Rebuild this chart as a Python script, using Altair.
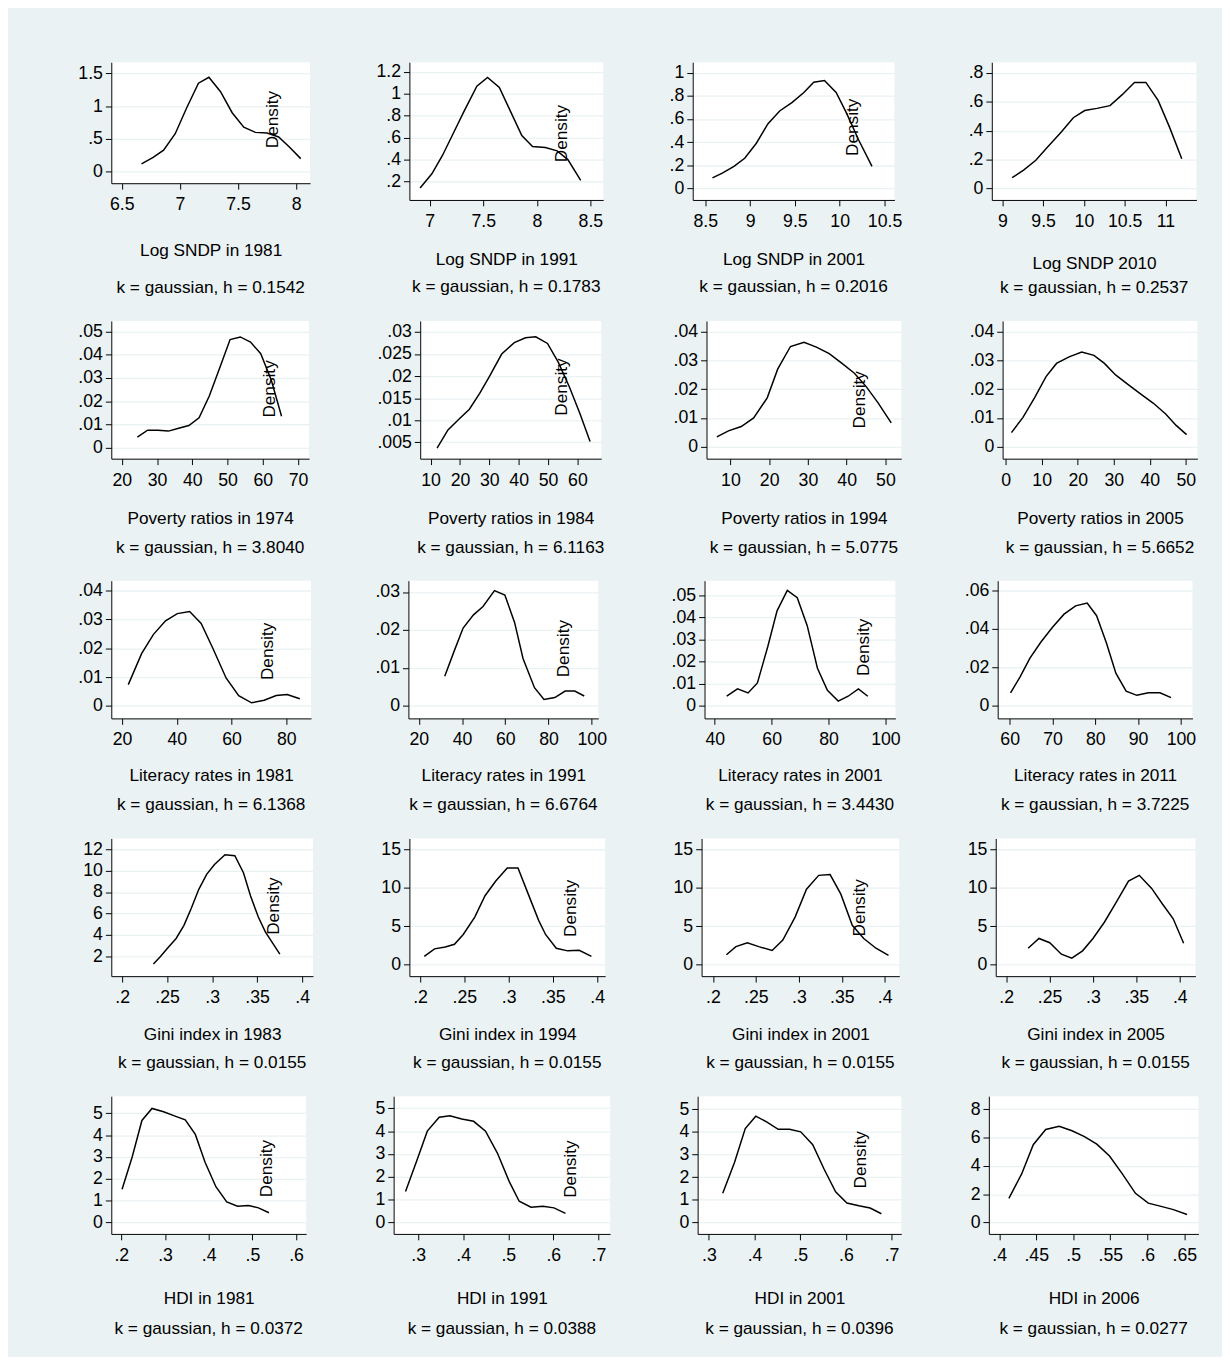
import altair as alt
import pandas as pd

# ---------------- data ----------------
# Row 1: Log SNDP
sndp1981_x = [6.67, 6.77, 6.86, 6.96, 7.06, 7.16, 7.25, 7.35, 7.45, 7.55, 7.65, 7.75, 7.85, 7.94, 8.04]
sndp1981_y = [0.12, 0.22, 0.33, 0.58, 0.98, 1.35, 1.44, 1.22, 0.90, 0.68, 0.60, 0.59, 0.53, 0.38, 0.20]
sndp1991_x = [6.91, 7.02, 7.12, 7.21, 7.32, 7.44, 7.54, 7.65, 7.75, 7.86, 7.96, 8.08, 8.19, 8.29, 8.41]
sndp1991_y = [0.14, 0.27, 0.44, 0.62, 0.84, 1.07, 1.15, 1.06, 0.85, 0.62, 0.52, 0.51, 0.48, 0.40, 0.21]
sndp2001_x = [8.58, 8.69, 8.82, 8.94, 9.07, 9.20, 9.33, 9.47, 9.60, 9.71, 9.83, 9.96, 10.08, 10.21, 10.36]
sndp2001_y = [0.09, 0.13, 0.19, 0.26, 0.39, 0.56, 0.67, 0.745, 0.83, 0.92, 0.935, 0.83, 0.645, 0.42, 0.19]
sndp2010_x = [9.12, 9.26, 9.41, 9.56, 9.72, 9.87, 10.01, 10.16, 10.32, 10.47, 10.62, 10.76, 10.91, 11.05, 11.20]
sndp2010_y = [0.075, 0.127, 0.195, 0.29, 0.39, 0.49, 0.54, 0.555, 0.574, 0.65, 0.735, 0.735, 0.61, 0.425, 0.205]

# Row 2: Poverty ratios
pov1974_x = [24.4, 27.3, 30.2, 33.2, 36.1, 39.0, 41.9, 44.8, 47.8, 50.7, 53.6, 56.5, 59.4, 62.4, 65.3]
pov1974_y = [0.0045, 0.0075, 0.0075, 0.0071, 0.0083, 0.0095, 0.0128, 0.0222, 0.0345, 0.0466, 0.0477, 0.0455, 0.0405, 0.0290, 0.0135]
pov1984_x = [12.2, 15.9, 19.7, 23.2, 26.7, 29.9, 34.2, 38.5, 42.3, 45.8, 49.8, 53.5, 57.3, 60.9, 64.3]
pov1984_y = [0.0037, 0.0078, 0.0103, 0.0125, 0.0161, 0.0198, 0.0250, 0.0276, 0.0287, 0.0289, 0.0274, 0.0231, 0.0175, 0.0114, 0.0052]
pov1994_x = [6.5, 9.5, 12.8, 16.0, 19.5, 22.2, 25.5, 29.0, 32.2, 35.5, 38.8, 42.0, 45.0, 48.2, 51.5]
pov1994_y = [0.0034, 0.0055, 0.0070, 0.0100, 0.0170, 0.0270, 0.0349, 0.0364, 0.0347, 0.0324, 0.0290, 0.0256, 0.0210, 0.0151, 0.0083]
pov2005_x = [1.6, 4.8, 8.0, 11.2, 14.1, 17.6, 21.1, 24.5, 27.4, 30.5, 34.0, 37.6, 41.0, 44.4, 47.3, 50.2]
pov2005_y = [0.0049, 0.0102, 0.0170, 0.0244, 0.0290, 0.0313, 0.0330, 0.0318, 0.0290, 0.0250, 0.0216, 0.0182, 0.0151, 0.0114, 0.0074, 0.0042]

# Row 3: Literacy rates
lit1981_x = [22.3, 27.2, 31.5, 35.9, 40.2, 44.7, 48.9, 53.2, 58.0, 62.6, 67.3, 71.9, 76.3, 80.3, 84.9]
lit1981_y = [0.0074, 0.0182, 0.0248, 0.0295, 0.0320, 0.0327, 0.0286, 0.0199, 0.0097, 0.0036, 0.0011, 0.0020, 0.0036, 0.0040, 0.0025]
lit1991_x = [32.0, 36.4, 40.5, 45.3, 49.7, 55.0, 59.8, 64.3, 68.2, 73.5, 77.9, 82.9, 87.7, 92.1, 96.5]
lit1991_y = [0.0078, 0.0145, 0.0205, 0.0240, 0.0262, 0.0304, 0.0292, 0.0220, 0.0125, 0.0048, 0.0017, 0.0022, 0.0039, 0.0039, 0.0026]
lit2001_x = [44.2, 48.0, 51.7, 55.0, 58.6, 61.9, 65.5, 69.0, 72.5, 76.1, 79.6, 83.4, 86.9, 90.5, 93.8]
lit2001_y = [0.0044, 0.0077, 0.0059, 0.0104, 0.0266, 0.0429, 0.0521, 0.0488, 0.0362, 0.0170, 0.0071, 0.0022, 0.0044, 0.0077, 0.0044]
lit2011_x = [60.2, 62.4, 64.7, 67.3, 70.0, 72.7, 75.4, 78.1, 80.3, 82.6, 84.8, 87.2, 89.7, 92.4, 95.1, 97.7]
lit2011_y = [0.0068, 0.0150, 0.0247, 0.0332, 0.0409, 0.0477, 0.0520, 0.0535, 0.0469, 0.0327, 0.0170, 0.0077, 0.0055, 0.0068, 0.0068, 0.0043]

# Row 4: Gini index
gini1983_x = [0.2348, 0.2426, 0.2504, 0.2600, 0.2687, 0.2765, 0.2852, 0.2939, 0.3026, 0.3143, 0.3252, 0.3348, 0.3426, 0.3513, 0.3591, 0.3674, 0.3752]
gini1983_y = [1.3, 2.0, 2.77, 3.68, 4.9, 6.43, 8.26, 9.65, 10.57, 11.48, 11.39, 9.8, 7.66, 5.67, 4.29, 3.22, 2.21]
gini1994_x = [0.2048, 0.2164, 0.2285, 0.2389, 0.2488, 0.2618, 0.2734, 0.2855, 0.2985, 0.3106, 0.3222, 0.3339, 0.3417, 0.3538, 0.3667, 0.3797, 0.3935]
gini1994_y = [1.07, 2.05, 2.3, 2.64, 3.92, 6.18, 8.95, 10.86, 12.57, 12.57, 9.16, 5.75, 3.92, 2.13, 1.79, 1.87, 1.07]
gini2001_x = [0.2156, 0.2267, 0.2400, 0.2533, 0.2689, 0.2813, 0.2956, 0.3089, 0.3231, 0.3364, 0.3489, 0.3622, 0.3756, 0.3898, 0.4044]
gini2001_y = [1.28, 2.34, 2.85, 2.34, 1.83, 3.2, 6.18, 9.8, 11.6, 11.7, 9.16, 5.11, 3.4, 2.13, 1.19]
gini2005_x = [0.2253, 0.2378, 0.2502, 0.2636, 0.2756, 0.2880, 0.3000, 0.3133, 0.3267, 0.3409, 0.3533, 0.3676, 0.3800, 0.3924, 0.4044]
gini2005_y = [2.13, 3.4, 2.85, 1.36, 0.85, 1.79, 3.4, 5.54, 8.1, 10.86, 11.6, 9.9, 7.88, 5.96, 2.77]

# Row 5: HDI
hdi1981_x = [0.2017, 0.2248, 0.2471, 0.2702, 0.2967, 0.3215, 0.3463, 0.3694, 0.3917, 0.4165, 0.4413, 0.4661, 0.4909, 0.5140, 0.5380]
hdi1981_y = [1.52, 3.0, 4.67, 5.22, 5.07, 4.88, 4.70, 4.03, 2.76, 1.64, 0.94, 0.75, 0.78, 0.67, 0.45]
hdi1991_x = [0.2719, 0.2956, 0.3202, 0.3466, 0.3703, 0.3967, 0.4231, 0.4495, 0.4758, 0.5022, 0.5242, 0.5505, 0.5769, 0.6015, 0.6270]
hdi1991_y = [1.36, 2.64, 4.00, 4.61, 4.67, 4.53, 4.43, 4.00, 3.04, 1.79, 0.93, 0.67, 0.71, 0.64, 0.40]
hdi2001_x = [0.3304, 0.3559, 0.3797, 0.4027, 0.4273, 0.4519, 0.4766, 0.5012, 0.5275, 0.5522, 0.5776, 0.6023, 0.6285, 0.6532, 0.6778]
hdi2001_y = [1.29, 2.64, 4.14, 4.69, 4.43, 4.11, 4.11, 4.00, 3.43, 2.36, 1.36, 0.86, 0.74, 0.64, 0.39]
hdi2006_x = [0.4131, 0.4303, 0.4460, 0.4628, 0.4810, 0.4983, 0.5151, 0.5318, 0.5490, 0.5663, 0.5840, 0.6013, 0.6186, 0.6353, 0.6537]
hdi2006_y = [1.71, 3.43, 5.49, 6.56, 6.79, 6.47, 6.06, 5.53, 4.69, 3.43, 2.06, 1.37, 1.14, 0.91, 0.57]

# titles, notes, tick values
x_titles = ["Log SNDP in 1981", "Log SNDP in 1991", "Log SNDP in 2001", "Log SNDP 2010",
            "Poverty ratios in 1974", "Poverty ratios in 1984", "Poverty ratios in 1994", "Poverty ratios in 2005",
            "Literacy rates in 1981", "Literacy rates in 1991", "Literacy rates in 2001", "Literacy rates in 2011",
            "Gini index in 1983", "Gini index in 1994", "Gini index in 2001", "Gini index in 2005",
            "HDI in 1981", "HDI in 1991", "HDI in 2001", "HDI in 2006"]
bandwidths = ["0.1542", "0.1783", "0.2016", "0.2537",
              "3.8040", "6.1163", "5.0775", "5.6652",
              "6.1368", "6.6764", "3.4430", "3.7225",
              "0.0155", "0.0155", "0.0155", "0.0155",
              "0.0372", "0.0388", "0.0396", "0.0277"]
x_ticks = [[6.5, 7, 7.5, 8], [7, 7.5, 8, 8.5], [8.5, 9, 9.5, 10, 10.5], [9, 9.5, 10, 10.5, 11],
           [20, 30, 40, 50, 60, 70], [10, 20, 30, 40, 50, 60], [10, 20, 30, 40, 50], [0, 10, 20, 30, 40, 50],
           [20, 40, 60, 80], [20, 40, 60, 80, 100], [40, 60, 80, 100], [60, 70, 80, 90, 100],
           [0.2, 0.25, 0.3, 0.35, 0.4], [0.2, 0.25, 0.3, 0.35, 0.4], [0.2, 0.25, 0.3, 0.35, 0.4], [0.2, 0.25, 0.3, 0.35, 0.4],
           [0.2, 0.3, 0.4, 0.5, 0.6], [0.3, 0.4, 0.5, 0.6, 0.7], [0.3, 0.4, 0.5, 0.6, 0.7], [0.4, 0.45, 0.5, 0.55, 0.6, 0.65]]
y_ticks = [[0, 0.5, 1, 1.5], [0.2, 0.4, 0.6, 0.8, 1, 1.2], [0, 0.2, 0.4, 0.6, 0.8, 1], [0, 0.2, 0.4, 0.6, 0.8],
           [0, 0.01, 0.02, 0.03, 0.04, 0.05], [0.005, 0.01, 0.015, 0.02, 0.025, 0.03], [0, 0.01, 0.02, 0.03, 0.04], [0, 0.01, 0.02, 0.03, 0.04],
           [0, 0.01, 0.02, 0.03, 0.04], [0, 0.01, 0.02, 0.03], [0, 0.01, 0.02, 0.03, 0.04, 0.05], [0, 0.02, 0.04, 0.06],
           [2, 4, 6, 8, 10, 12], [0, 5, 10, 15], [0, 5, 10, 15], [0, 5, 10, 15],
           [0, 1, 2, 3, 4, 5], [0, 1, 2, 3, 4, 5], [0, 1, 2, 3, 4, 5], [0, 2, 4, 6, 8]]

series_x = [sndp1981_x, sndp1991_x, sndp2001_x, sndp2010_x, pov1974_x, pov1984_x, pov1994_x, pov2005_x,
            lit1981_x, lit1991_x, lit2001_x, lit2011_x, gini1983_x, gini1994_x, gini2001_x, gini2005_x,
            hdi1981_x, hdi1991_x, hdi2001_x, hdi2006_x]
series_y = [sndp1981_y, sndp1991_y, sndp2001_y, sndp2010_y, pov1974_y, pov1984_y, pov1994_y, pov2005_y,
            lit1981_y, lit1991_y, lit2001_y, lit2011_y, gini1983_y, gini1994_y, gini2001_y, gini2005_y,
            hdi1981_y, hdi1991_y, hdi2001_y, hdi2006_y]

# ---------------- scales & layout (style, not data) ----------------
x_domains = [[6.41, 8.12], [6.81, 8.62], [8.36, 10.61], [8.87, 11.38],
             [17.0, 73.1], [6.45, 68.1], [3.83, 54.1], [-0.85, 53.2],
             [16.1, 89.0], [15.2, 103.0], [36.4, 103.5], [57.2, 102.7],
             [0.188, 0.412], [0.188, 0.409], [0.1867, 0.417], [0.188, 0.418],
             [0.177, 0.623], [0.2455, 0.726], [0.2754, 0.7214], [0.386, 0.669]]
y_domains = [[-0.175, 1.67], [0.031, 1.29], [-0.102, 1.093], [-0.08, 0.875],
             [-0.0048, 0.0546], [0.0013, 0.0325], [-0.0042, 0.0438], [-0.0042, 0.0438],
             [-0.0043, 0.0434], [-0.0033, 0.033], [-0.0056, 0.0565], [-0.0065, 0.0651],
             [0.165, 13.0], [-1.5, 16.4], [-1.5, 16.4], [-1.5, 16.4],
             [-0.52, 5.78], [-0.5, 5.53], [-0.5, 5.57], [-0.8, 8.91]]
widths = [202, 197, 205, 208,
          201, 184, 198, 198,
          203, 193, 194, 198,
          205, 199, 201, 203,
          198, 220, 207, 213]
heights = [123, 140, 140, 140] + [140] * 16
row_spacing = [66, 68, 64, 68, 69]   # space between a panel's plot edge and the next panel's tick labels
# position of the (misplaced) "Density" axis title, as fractions of the plot area
density_pos = [(0.81, 0.47), (0.787, 0.514), (0.795, 0.469), None,
               (0.802, 0.49), (0.782, 0.476), (0.785, 0.569), None,
               (0.782, 0.51), (0.816, 0.49), (0.832, 0.48), None,
               (0.807, 0.488), (0.823, 0.504), (0.797, 0.50), None,
               (0.796, 0.522), (0.818, 0.526), (0.80, 0.458), None]
title_pad = [28, 21, 21, 25, 21, 21, 21, 21, 18, 18, 18, 18, 19, 19, 19, 19, 26, 26, 26, 26]
note_off = [21, 10, 10, 7, 12, 12, 12, 12, 13, 13, 13, 13, 12, 12, 12, 12, 13, 13, 13, 13]

FONT = "Liberation Sans"
LABEL_EXPR = ("datum.value > 0 && datum.value < 1 ? slice(format(datum.value, '~g'), 1) "
              ": format(datum.value, '~g')")


def panel(i):
    df = pd.DataFrame({"x": series_x[i], "y": series_y[i]})
    w, h = widths[i], heights[i]
    yaxis = dict(values=y_ticks[i], labelExpr=LABEL_EXPR, grid=True, labelOverlap=False,
                 labelPadding=3, tickSize=6)
    yscale = alt.Scale(domain=y_domains[i], nice=False, zero=False)
    if density_pos[i] is not None:
        fx, fy = density_pos[i]
        yaxis.update(titleX=fx * w, titleY=fy * h, titleAngle=270, titleAlign="center",
                     titleBaseline="middle", titleFont=FONT, titleFontSize=17.5)
        y_enc = alt.Y("y:Q", title="Density", scale=yscale, axis=alt.Axis(**yaxis))
    else:
        y_enc = alt.Y("y:Q", title=None, scale=yscale, axis=alt.Axis(**yaxis))
    x_enc = alt.X("x:Q", title=x_titles[i],
                  scale=alt.Scale(domain=x_domains[i], nice=False, zero=False),
                  axis=alt.Axis(values=x_ticks[i], labelExpr=LABEL_EXPR, grid=False,
                                labelOverlap=False, labelFlush=False, labelPadding=7,
                                tickSize=6, titlePadding=title_pad[i]))
    return (
        alt.Chart(df)
        .mark_line(color="black", strokeWidth=1.5)
        .encode(x=x_enc, y=y_enc, order="x:Q")
        .properties(
            width=w, height=h,
            title=alt.TitleParams(text="k = gaussian, h = " + bandwidths[i], orient="bottom",
                                  offset=note_off[i], font=FONT, fontSize=17.5,
                                  fontWeight="normal", color="black", anchor="middle"),
        )
    )


rows = [alt.hconcat(*[panel(r * 4 + c) for c in range(4)], spacing=row_spacing[r])
        for r in range(5)]

chart = (
    alt.concat(*rows, columns=1, spacing=25, align="none")
    .properties(background="#eaf2f3",
                padding={"left": 70, "top": 44, "right": 24, "bottom": 9})
    .configure_view(fill="white", strokeWidth=0)
    .configure_axis(labelFont=FONT, labelFontSize=18, labelColor="black",
                    titleFont=FONT, titleFontSize=17.5, titleFontWeight="normal",
                    titleColor="black", domainColor="black", domainWidth=1,
                    tickColor="black", tickWidth=1, gridColor="#eaf2f3", gridWidth=1.3)
)

chart.save("out.html", embed_options={"renderer": "svg", "actions": False})
